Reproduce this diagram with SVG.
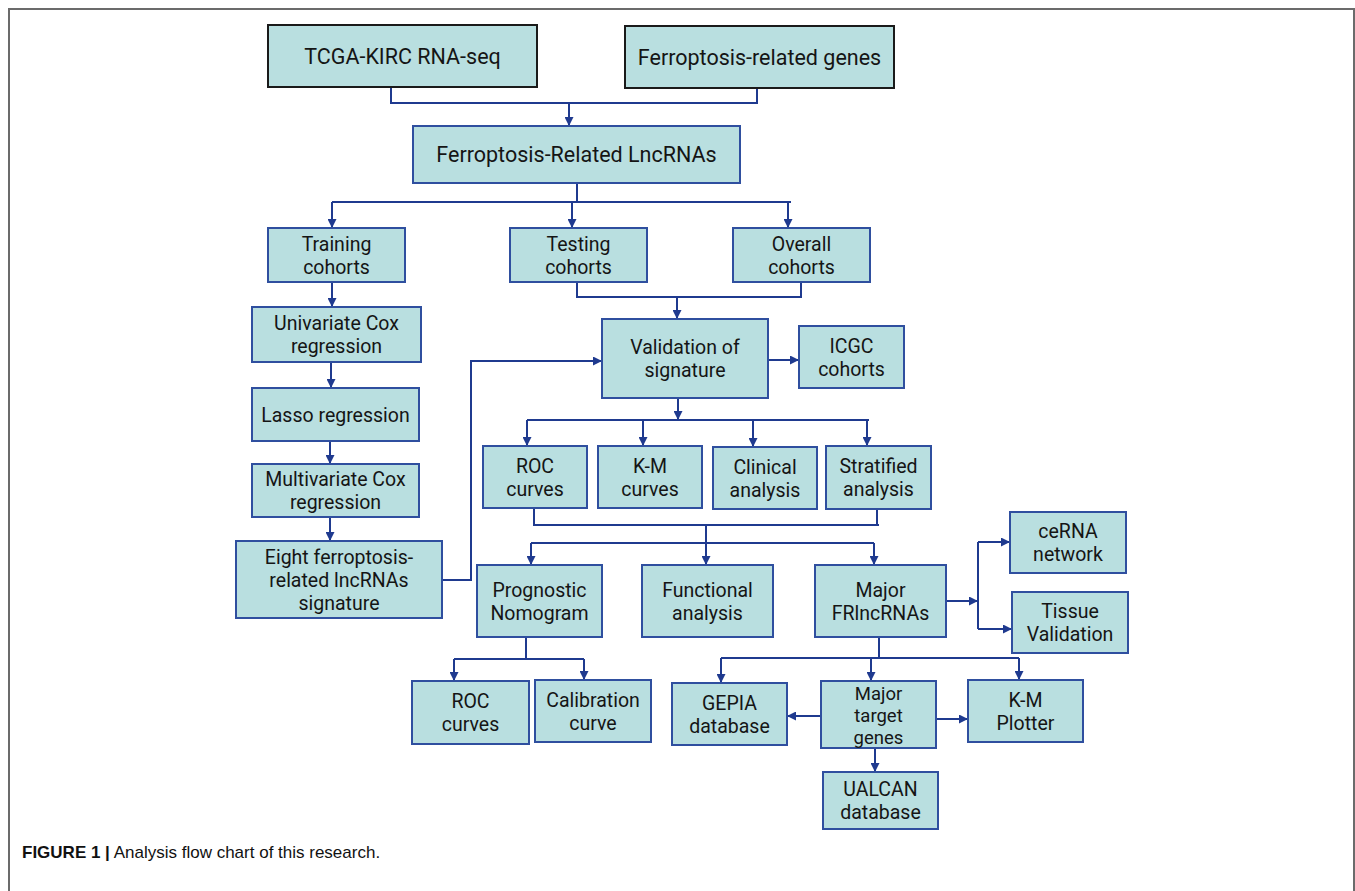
<svg xmlns="http://www.w3.org/2000/svg" width="1355" height="891" viewBox="0 0 1355 891">
<style>
.b{fill:#b9dfe0;stroke:#2f4f9f;stroke-width:2}
.k{fill:#b9dfe0;stroke:#1a1a1a;stroke-width:2}
.t{font-family:Roboto,"Liberation Sans",sans-serif;font-size:19.5px;fill:#151515;text-anchor:middle}
.h{font-size:21.5px}
.s{font-size:18.5px}
.c{fill:none;stroke:#1f3a8f;stroke-width:2}
.a{fill:none;stroke:#1f3a8f;stroke-width:2;marker-end:url(#ah)}
</style>
<defs>
<marker id="ah" viewBox="0 0 10 10" refX="10" refY="5" markerWidth="9" markerHeight="9" markerUnits="userSpaceOnUse" orient="auto"><path d="M0,0 L10,5 L0,10 z" fill="#1f3a8f"/></marker>
</defs>
<rect x="0" y="0" width="1355" height="891" fill="#fff"/>
<path d="M9,891 V9 H1354 V891" fill="none" stroke="#6b6b6b" stroke-width="2"/>

<g id="connectors">
<path class="c" d="M391,87 V103 H757 V88"/>
<path class="a" d="M569,103 V126"/>
<path class="c" d="M577,183 V202 M332,202 H791"/>
<path class="a" d="M332,202 V228"/>
<path class="a" d="M572,202 V228"/>
<path class="a" d="M788,202 V228"/>
<path class="a" d="M332,282 V307"/>
<path class="a" d="M331,362 V388"/>
<path class="a" d="M330,441 V464"/>
<path class="a" d="M330,517 V541"/>
<path class="a" d="M442,580 H471 V361 H602"/>
<path class="c" d="M577,282 V297 H801 V282"/>
<path class="a" d="M677,297 V319"/>
<path class="a" d="M768,360 H799"/>
<path class="a" d="M678,398 V420"/>
<path class="c" d="M527,420 H869"/>
<path class="a" d="M527,420 V446"/>
<path class="a" d="M643,420 V446"/>
<path class="a" d="M753,420 V447"/>
<path class="a" d="M867,420 V446"/>
<path class="c" d="M534,508 V525 H879 M877,509 V525"/>
<path class="a" d="M706,525 V565"/>
<path class="c" d="M531,543 H874"/>
<path class="a" d="M531,543 V565"/>
<path class="a" d="M874,543 V565"/>
<path class="a" d="M946,601 H978"/>
<path class="c" d="M978,542 V629"/>
<path class="a" d="M978,542 H1010"/>
<path class="a" d="M978,629 H1012"/>
<path class="c" d="M879,637 V658 M721,658 H1019"/>
<path class="a" d="M721,658 V683"/>
<path class="a" d="M871,658 V681"/>
<path class="a" d="M1019,658 V680"/>
<path class="c" d="M526,637 V659 M454,659 H584"/>
<path class="a" d="M454,659 V681"/>
<path class="a" d="M584,659 V680"/>
<path class="a" d="M821,716 H787"/>
<path class="a" d="M936,719 H968"/>
<path class="a" d="M875,748 V772"/>
</g>

<g id="tcga"><rect class="k" x="268" y="25" width="269" height="62"/><text class="t h" x="402.5" y="63.5">TCGA-KIRC RNA-seq</text></g>
<g id="genes"><rect class="k" x="625" y="26" width="269" height="62"/><text class="t h" x="759.5" y="64.5">Ferroptosis-related genes</text></g>
<g id="lnc"><rect class="b" x="413" y="126" width="327" height="57"/><text class="t h" x="576.5" y="162">Ferroptosis-Related LncRNAs</text></g>
<g id="training"><rect class="b" x="268" y="228" width="137" height="54"/><text class="t" x="336.5" y="250.5">Training<tspan x="336.5" dy="23">cohorts</tspan></text></g>
<g id="testing"><rect class="b" x="510" y="228" width="137" height="54"/><text class="t" x="578.5" y="250.5">Testing<tspan x="578.5" dy="23">cohorts</tspan></text></g>
<g id="overall"><rect class="b" x="733" y="228" width="137" height="54"/><text class="t" x="801.5" y="250.5">Overall<tspan x="801.5" dy="23">cohorts</tspan></text></g>
<g id="univariate"><rect class="b" x="252" y="307" width="169" height="55"/><text class="t" x="336.5" y="330">Univariate Cox<tspan x="336.5" dy="23">regression</tspan></text></g>
<g id="lasso"><rect class="b" x="252" y="388" width="167" height="53"/><text class="t" x="335.5" y="421.5">Lasso regression</text></g>
<g id="multivariate"><rect class="b" x="252" y="464" width="167" height="53"/><text class="t" x="335.5" y="486">Multivariate Cox<tspan x="335.5" dy="23">regression</tspan></text></g>
<g id="eight"><rect class="b" x="236" y="541" width="206" height="77"/><text class="t" x="339" y="563.5">Eight ferroptosis-<tspan x="339" dy="23">related lncRNAs</tspan><tspan x="339" dy="23">signature</tspan></text></g>
<g id="validation"><rect class="b" x="602" y="319" width="166" height="79"/><text class="t" x="685" y="354">Validation of<tspan x="685" dy="23">signature</tspan></text></g>
<g id="icgc"><rect class="b" x="799" y="326" width="105" height="62"/><text class="t" x="851.5" y="352.5">ICGC<tspan x="851.5" dy="23">cohorts</tspan></text></g>
<g id="roc1"><rect class="b" x="483" y="446" width="104" height="62"/><text class="t" x="535" y="472.5">ROC<tspan x="535" dy="23">curves</tspan></text></g>
<g id="km1"><rect class="b" x="598" y="446" width="104" height="62"/><text class="t" x="650" y="472.5">K-M<tspan x="650" dy="23">curves</tspan></text></g>
<g id="clinical"><rect class="b" x="713" y="447" width="104" height="62"/><text class="t" x="765" y="473.5">Clinical<tspan x="765" dy="23">analysis</tspan></text></g>
<g id="stratified"><rect class="b" x="826" y="446" width="105" height="63"/><text class="t" x="878.5" y="473">Stratified<tspan x="878.5" dy="23">analysis</tspan></text></g>
<g id="prognostic"><rect class="b" x="477" y="565" width="125" height="72"/><text class="t" x="539.5" y="596.5">Prognostic<tspan x="539.5" dy="23">Nomogram</tspan></text></g>
<g id="functional"><rect class="b" x="642" y="565" width="131" height="72"/><text class="t" x="707.5" y="596.5">Functional<tspan x="707.5" dy="23">analysis</tspan></text></g>
<g id="majorfr"><rect class="b" x="815" y="565" width="131" height="72"/><text class="t" x="880.5" y="596.5">Major<tspan x="880.5" dy="23">FRlncRNAs</tspan></text></g>
<g id="cerna"><rect class="b" x="1010" y="512" width="116" height="61"/><text class="t" x="1068" y="538">ceRNA<tspan x="1068" dy="23">network</tspan></text></g>
<g id="tissue"><rect class="b" x="1012" y="592" width="116" height="61"/><text class="t" x="1070" y="618">Tissue<tspan x="1070" dy="23">Validation</tspan></text></g>
<g id="roc2"><rect class="b" x="412" y="681" width="117" height="63"/><text class="t" x="470.5" y="708">ROC<tspan x="470.5" dy="23">curves</tspan></text></g>
<g id="calibration"><rect class="b" x="535" y="680" width="116" height="62"/><text class="t" x="593" y="706.5">Calibration<tspan x="593" dy="23">curve</tspan></text></g>
<g id="gepia"><rect class="b" x="672" y="683" width="115" height="62"/><text class="t" x="729.5" y="709.5">GEPIA<tspan x="729.5" dy="23">database</tspan></text></g>
<g id="target"><rect class="b" x="821" y="681" width="115" height="67"/><text class="t s" x="878.5" y="700">Major<tspan x="878.5" dy="22">target</tspan><tspan x="878.5" dy="22">genes</tspan></text></g>
<g id="kmplot"><rect class="b" x="968" y="680" width="115" height="62"/><text class="t" x="1025.5" y="706.5">K-M<tspan x="1025.5" dy="23">Plotter</tspan></text></g>
<g id="ualcan"><rect class="b" x="823" y="772" width="115" height="57"/><text class="t" x="880.5" y="796">UALCAN<tspan x="880.5" dy="23">database</tspan></text></g>

<text x="22" y="858" font-family="Liberation Sans,Arial,sans-serif" font-size="17" fill="#111"><tspan font-weight="bold">FIGURE 1 |</tspan> Analysis flow chart of this research.</text>
</svg>
